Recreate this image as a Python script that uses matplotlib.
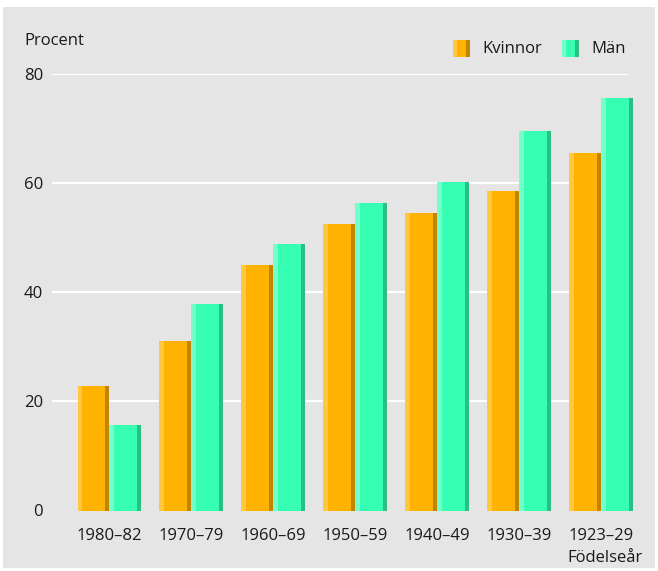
import numpy as np
import matplotlib.pyplot as plt
from matplotlib.patches import Rectangle

plt.rcParams['font.family'] = ['Open Sans', 'DejaVu Sans']

kohorter = ['1980–82', '1970–79', '1960–69', '1950–59', '1940–49', '1930–39', '1923–29']
kvinnor = [22.8, 31.0, 44.9, 52.5, 54.5, 58.5, 65.4]
man = [15.7, 37.8, 48.8, 56.3, 60.1, 69.5, 75.5]
yticks = [0, 20, 40, 60, 80]

W, H = 658, 571
bg = '#e5e5e5'
txt = '#1a1a1a'
fs = 12
# (ljus, mitt, mörk)
orange = ('#ffc640', '#ffb300', '#c28500')
gron = ('#72ffca', '#36ffb3', '#2abf83')

fig = plt.figure(figsize=(W / 100, H / 100), dpi=100)
fig.patches.append(Rectangle((3 / W, 3 / H), 652 / W, 561 / H, transform=fig.transFigure,
                             facecolor=bg, edgecolor='none', zorder=-5))

# axes: 52..640 px horisontellt, 510.5..73.5 px vertikalt
ax = fig.add_axes([52 / W, (H - 510.5) / H, 588 / W, 437 / H])
ax.set_facecolor('none')
px = 1 / 82.0  # en pixel i dataenheter (gruppavstånd 82 px)
ax.set_xlim(-57.5 * px, 6 + 38.5 * px)
ax.set_ylim(0, 80)

ax.hlines(yticks[1:], 0, 0.98, transform=ax.get_yaxis_transform(), colors='white', lw=1.6, zorder=1)

x = np.arange(len(kohorter))
bw = 32 * px
strip = 4.5 * px


def staplar(left, vals, cols):
    ax.bar(left, vals, width=bw, align='edge', color=cols[1], lw=0, zorder=2)
    ax.bar(left, vals, width=strip, align='edge', color=cols[0], lw=0, zorder=3)
    ax.bar(left + bw - strip, vals, width=strip, align='edge', color=cols[2], lw=0, zorder=3)


staplar(x - bw, kvinnor, orange)
staplar(x, man, gron)

for s in ax.spines.values():
    s.set_visible(False)
ax.set_yticks(yticks)
ax.set_yticklabels([str(v) for v in yticks])
ax.set_xticks(x)
ax.set_xticklabels(kohorter)
ax.tick_params(axis='y', length=0, pad=6.5, labelsize=fs, labelcolor=txt)
ax.tick_params(axis='x', length=0, pad=12.5, labelsize=fs, labelcolor=txt)

fig.text(24 / W, 1 - 41 / H, 'Procent', ha='left', va='center', fontsize=fs, color=txt)
fig.text(643 / W, 1 - 558 / H, 'Födelseår', ha='right', va='center', fontsize=fs, color=txt)


def legendruta(x0, cols):
    y0 = H - 57.3
    for xs, w, c in [(x0, 17.3, cols[1]), (x0, 4, cols[0]), (x0 + 13, 4.3, cols[2])]:
        fig.patches.append(Rectangle((xs / W, y0 / H), w / W, 17.3 / H, transform=fig.transFigure,
                                     facecolor=c, edgecolor='none', zorder=2))


legendruta(452.7, orange)
fig.text(482.7 / W, 1 - 49 / H, 'Kvinnor', ha='left', va='center', fontsize=fs, color=txt)
legendruta(561.7, gron)
fig.text(591.7 / W, 1 - 49 / H, 'Män', ha='left', va='center', fontsize=fs, color=txt)

fig.savefig('out.png', dpi=100, facecolor='white')
